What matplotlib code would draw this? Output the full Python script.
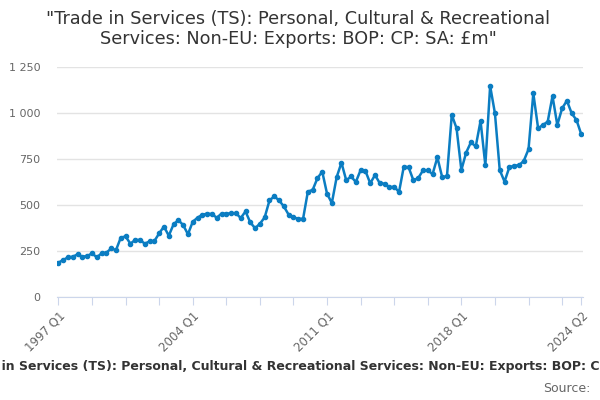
import numpy as np
import matplotlib.pyplot as plt

# quarterly values, 1997 Q1 .. 2024 Q2 (£m)
values = [
    187, 201, 216, 219, 232, 219, 223, 237, 216, 237,
    241, 264, 255, 323, 329, 290, 310, 310, 290, 302,
    304, 346, 383, 333, 395, 418, 391, 341, 409, 431,
    447, 453, 451, 431, 453, 453, 455, 456, 429, 465,
    405, 374, 398, 433, 525, 547, 525, 492, 447, 433,
    425, 425, 573, 582, 646, 681, 561, 511, 651, 730,
    634, 655, 625, 690, 685, 618, 663, 618, 616, 596,
    600, 570, 709, 705, 634, 646, 688, 688, 668, 759,
    651, 657, 990, 917, 690, 785, 841, 818, 957, 716,
    1147, 998, 690, 627, 705, 714, 716, 739, 803, 1107,
    917, 935, 953, 1092, 935, 1025, 1067, 998, 962, 884,
]
quarters = [f"{1997 + i // 4} Q{i % 4 + 1}" for i in range(len(values))]
label_idx = [0, 28, 56, 84, 109]
tick_idx = list(range(0, 106, 7)) + [109]
y_ticks = [0, 250, 500, 750, 1000, 1250]
y_labels = ["0", "250", "500", "750", "1 000", "1 250"]

title = ('"Trade in Services (TS): Personal, Cultural & Recreational\n'
         'Services: Non-EU: Exports: BOP: CP: SA: £m"')
xlabel = "Trade in Services (TS): Personal, Cultural & Recreational Services: Non-EU: Exports: BOP: CP: SA: £m"

plt.rcParams["font.family"] = ["DejaVu Sans"]

fig = plt.figure(figsize=(6, 4), dpi=100)
ax = fig.add_axes([0.095, 0.2575, 0.877, 0.575])

x = np.arange(len(values))
ax.plot(x, values, color="#0b7dc2", linewidth=1.8, marker="o", markersize=3)

ax.set_xlim(-0.3, 109.4)
ax.set_ylim(0, 1250)
ax.set_yticks(y_ticks)
ax.set_yticklabels(y_labels)
ax.grid(axis="y", color="#e3e3e3", linewidth=1)
ax.set_axisbelow(True)
ax.tick_params(axis="y", length=0, pad=12, labelsize=8, labelcolor="#666666")

ax.set_xticks(tick_idx)
ax.set_xticklabels([quarters[i] if i in label_idx else "" for i in tick_idx],
                   rotation=45, ha="right", rotation_mode="anchor")
ax.tick_params(axis="x", length=6, color="#ccd6eb", labelsize=8.5,
               labelcolor="#666666", pad=3)

for s in ["top", "right", "left"]:
    ax.spines[s].set_visible(False)
ax.spines["bottom"].set_color("#ccd6eb")

fig.text(0.497, 0.975, title, ha="center", va="top", fontsize=12.7,
         color="#333333", linespacing=1.15)
fig.text(0.522, 0.083, xlabel, ha="center", va="center", fontsize=9,
         fontweight="bold", color="#333333")
fig.text(0.984, 0.028, "Source:", ha="right", va="center", fontsize=9,
         color="#666666")

fig.savefig("out.png", dpi=100)
